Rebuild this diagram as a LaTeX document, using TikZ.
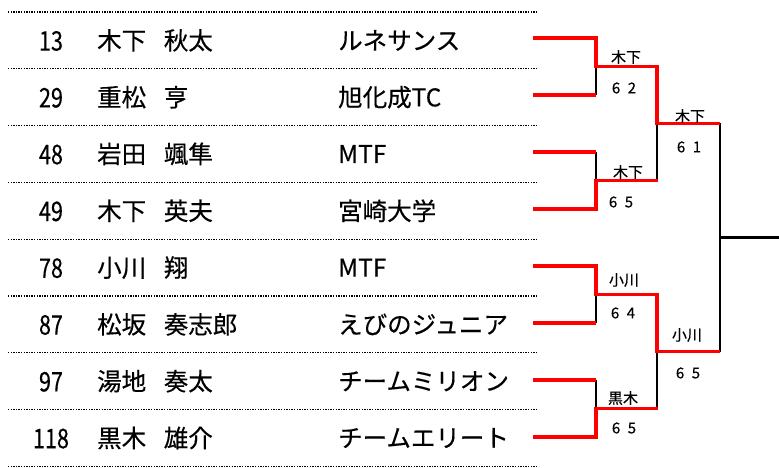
\documentclass[tikz,border=0pt]{standalone}
\usepackage{fontspec}
\setmainfont{Noto Sans CJK JP}[FakeBold=0.4]
\newcommand{\nsp}{\hspace{0.72em}}
\begin{document}
\begin{tikzpicture}[x=1pt,y=-1pt,
  rowtxt/.style={font=\fontsize{24.5}{24.5}\selectfont, inner sep=0pt},
  numtxt/.style={rowtxt, anchor=center},
  nametxt/.style={rowtxt, anchor=west},
  dotline/.style={line width=1.3pt, dash pattern=on 1.3pt off 1.3pt},
  win/.style={red, line width=3.8pt},
  lose/.style={black, line width=2.8pt},
  lbl/.style={font=\fontsize{15}{15}\selectfont, inner sep=0pt}]
\useasboundingbox (0,0) rectangle (779,468);

% separators
\foreach \k in {0,...,8}
  \draw[dotline] (8,{12+56.8*\k}) -- (536,{12+56.8*\k});

% rows
\foreach \i/\n/\p/\t in {1/13/木下\nsp 秋太/ルネサンス,
                         2/29/重松\nsp 亨/旭化成TC,
                         3/48/岩田\nsp 颯隼/MTF,
                         4/49/木下\nsp 英夫/宮崎大学,
                         5/78/小川\nsp 翔/MTF,
                         6/87/松坂\nsp 奏志郎/えびのジュニア,
                         7/97/湯地\nsp 奏太/チームミリオン,
                         8/118/黒木\nsp 雄介/チームエリート}{
  \node[numtxt] (n\i) at (51,{41+56.8*(\i-1)}) {\scalebox{0.88}[1.1]{\n}};
  \node[nametxt] (p\i) at (97,{40.4+56.8*(\i-1)}) {\p};
  \node[nametxt] (t\i) at (338,{40.4+56.8*(\i-1)}) {\t};
}

% bracket coordinates
\foreach \i in {1,...,8}{
  \coordinate (e\i) at (533,{38+57*(\i-1)});
  \coordinate (a\i) at (596,{38+57*(\i-1)});
}
\coordinate (q1) at (596,66.5);  \coordinate (r1) at (657,66.5);
\coordinate (q2) at (596,180.5); \coordinate (r2) at (657,180.5);
\coordinate (q3) at (596,294.5); \coordinate (r3) at (657,294.5);
\coordinate (q4) at (596,408.5); \coordinate (r4) at (657,408.5);
\coordinate (s1) at (657,123.5); \coordinate (u1) at (720,123.5);
\coordinate (s2) at (657,351.5); \coordinate (u2) at (720,351.5);
\coordinate (f) at (720,237.5);  \coordinate (g) at (779,237.5);

% losing (black) lines
\draw[lose] (q1) -- (a2);
\draw[lose] (a3) -- (q2);
\draw[lose] (q3) -- (a6);
\draw[lose] (a7) -- (q4);
\draw[lose] (s1) -- (r2);
\draw[lose] (s2) -- (r4);
\draw[lose] (u1) -- (u2);
\draw[lose] (f) -- (g);

% winning (red) lines
\draw[win] (e1) -- (a1) -- (q1) -- (r1) -- (s1) -- (u1);
\draw[win] (e2) -- (a2);
\draw[win] (e3) -- (a3);
\draw[win] (e4) -- (a4) -- (q2) -- ([xshift=1.4pt]r2);
\draw[win] (e5) -- (a5) -- (q3) -- (r3) -- (s2) -- (u2);
\draw[win] (e6) -- (a6);
\draw[win] (e7) -- (a7);
\draw[win] (e8) -- (a8) -- (q4) -- ([xshift=1.4pt]r4);

% match labels
\node[lbl] (w1) at (626,57) {木下};
\node[lbl] (c1) at (624,88) {6\hspace{0.5em}2};
\node[lbl] (w2) at (628,172) {木下};
\node[lbl] (c2) at (621,202) {6\hspace{0.5em}5};
\node[lbl] (w3) at (624,280) {小川};
\node[lbl] (c3) at (623,313) {6\hspace{0.5em}4};
\node[lbl] (w4) at (623,398) {黒木};
\node[lbl] (c4) at (624,428) {6\hspace{0.5em}5};
\node[lbl] (w5) at (690,116) {木下};
\node[lbl] (c5) at (689,147) {6\hspace{0.5em}1};
\node[lbl] (w6) at (687,335) {小川};
\node[lbl] (c6) at (688,373) {6\hspace{0.5em}5};
\end{tikzpicture}
\end{document}
